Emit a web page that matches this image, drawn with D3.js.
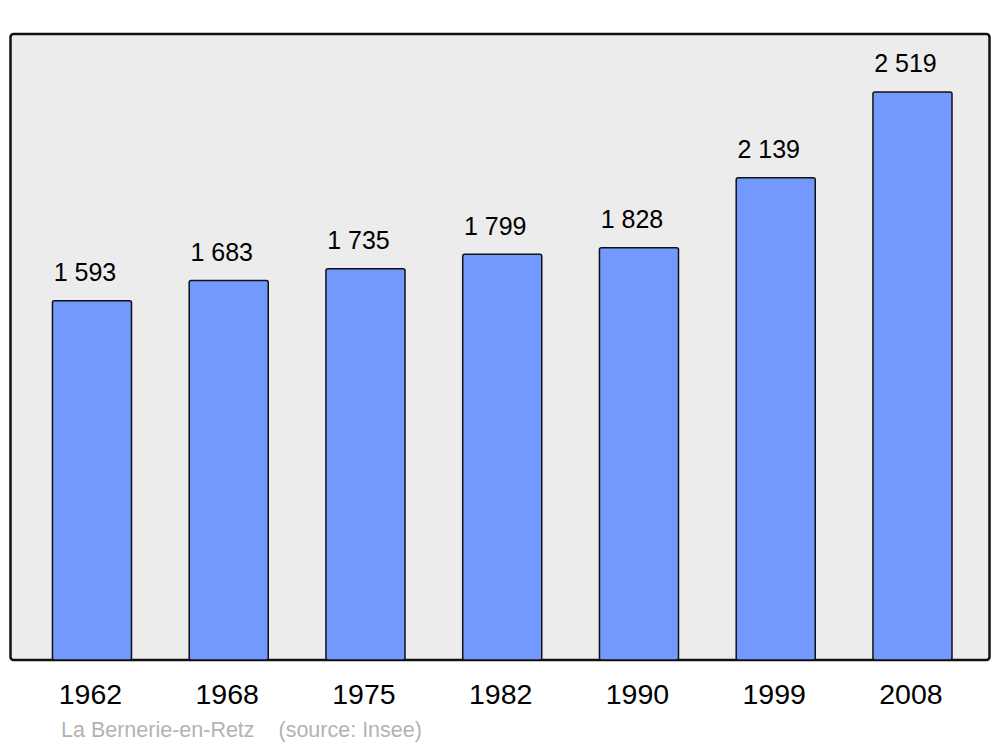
<!DOCTYPE html>
<html><head><meta charset="utf-8">
<script src="https://cdn.jsdelivr.net/npm/d3@7"></script>
<style>html,body{margin:0;padding:0;background:#fff;}svg{display:block;}</style>
</head><body>
<svg id="c" width="1000" height="747"></svg>
<script>
const years = ["1962","1968","1975","1982","1990","1999","2008"];
const population = [1593, 1683, 1735, 1799, 1828, 2139, 2519];
const valueLabels = ["1 593","1 683","1 735","1 799","1 828","2 139","2 519"];
const caption = "La Bernerie-en-Retz    (source: Insee)";

const svg = d3.select("#c");
const font = "'Liberation Sans', Arial, sans-serif";

svg.append("rect").attr("x",10.5).attr("y",34).attr("width",979).attr("height",626)
  .attr("rx",3).attr("fill","#ececec").attr("stroke","#111").attr("stroke-width",2.5);

const x = d3.scaleBand().domain(years).range([23.6, 980.85]).paddingInner(0.422).paddingOuter(0.211);
const y = d3.scaleLinear().domain([0, 2776]).range([660, 34]);

const data = years.map((yr,i)=>({yr, v: population[i], lab: valueLabels[i]}));

svg.selectAll("rect.bar").data(data).enter().append("rect").attr("class","bar")
  .attr("x", d=>x(d.yr)).attr("y", d=>y(d.v))
  .attr("width", x.bandwidth()).attr("height", d=>y(0)-y(d.v))
  .attr("rx",2).attr("fill","#7399ff").attr("stroke","#111").attr("stroke-width",1.5);

svg.selectAll("text.val").data(data).enter().append("text").attr("class","val")
  .attr("x", d=>x(d.yr)+x.bandwidth()/2-7).attr("y", d=>y(d.v)-19.5)
  .attr("text-anchor","middle").attr("font-family",font).attr("font-size",25)
  .attr("fill","#000").text(d=>d.lab);

const xAxis = d3.axisBottom(x).tickSize(0).tickPadding(0);
const ax = svg.append("g").attr("transform","translate(0,684)").call(xAxis);
ax.select(".domain").remove();
ax.selectAll("text").attr("font-family",font).attr("font-size",28.5).attr("fill","#000")
  .attr("dx",-1.5);

svg.append("text").attr("x",61).attr("y",737).attr("font-family",font).attr("font-size",21.5)
  .attr("fill","#b3b3b3").attr("xml:space","preserve").style("white-space","pre").text(caption);
</script>
</body></html>
